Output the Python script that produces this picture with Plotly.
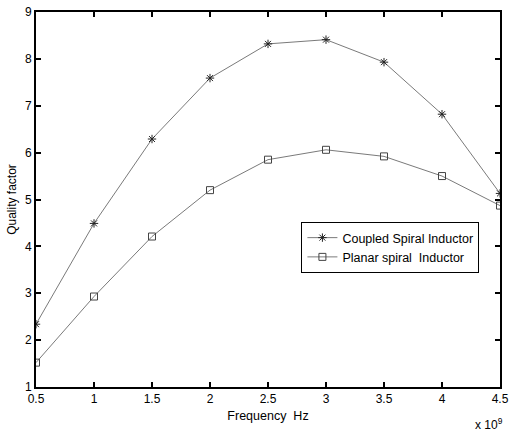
import plotly.graph_objects as go

freq = [0.5e9, 1.0e9, 1.5e9, 2.0e9, 2.5e9, 3.0e9, 3.5e9, 4.0e9, 4.5e9]
coupled = [2.34, 4.49, 6.29, 7.59, 8.32, 8.41, 7.93, 6.82, 5.13]
planar = [1.52, 2.93, 4.21, 5.20, 5.85, 6.06, 5.92, 5.50, 4.87]
xticks = [0.5e9, 1.0e9, 1.5e9, 2.0e9, 2.5e9, 3.0e9, 3.5e9, 4.0e9, 4.5e9]
xticklabels = ["0.5", "1", "1.5", "2", "2.5", "3", "3.5", "4", "4.5"]
yticks = [1, 2, 3, 4, 5, 6, 7, 8, 9]

font = "Liberation Sans, Arial, sans-serif"

fig = go.Figure()
fig.add_trace(go.Scatter(
    x=freq, y=coupled, mode="lines+markers", name="Coupled Spiral Inductor",
    line=dict(color="#7a7a7a", width=1),
    marker=dict(symbol="asterisk-open", size=7, color="#222222",
                line=dict(color="#222222", width=1)),
))
fig.add_trace(go.Scatter(
    x=freq, y=planar, mode="lines+markers", name="Planar spiral  Inductor",
    line=dict(color="#7a7a7a", width=1),
    marker=dict(symbol="square-open", size=7, color="#444444",
                line=dict(color="#444444", width=1)),
))

axis_common = dict(
    showgrid=False, zeroline=False, showline=True, linecolor="black",
    linewidth=2, mirror="ticks", ticks="inside", ticklen=5, tickwidth=2,
    tickcolor="black", tickfont=dict(family=font, size=12, color="black"),
    automargin=False, ticklabeloverflow="allow",
)

fig.update_layout(
    width=509, height=436,
    margin=dict(l=36, r=9, t=12, b=49),
    paper_bgcolor="white", plot_bgcolor="white",
    font=dict(family=font, size=12, color="black"),
    xaxis=dict(range=[0.5e9, 4.5e9], tickvals=xticks, ticktext=xticklabels,
               title=dict(text="Frequency  Hz", standoff=6,
                          font=dict(family=font, size=12.5)),
               **axis_common),
    yaxis=dict(range=[1, 9], tickvals=yticks,
               title=dict(text="Quality factor", standoff=6,
                          font=dict(family=font, size=12)),
               **axis_common),
    legend=dict(x=0.572, y=0.44, xanchor="left", yanchor="top",
                bgcolor="white", bordercolor="black", borderwidth=1,
                font=dict(family=font, size=12.5), itemwidth=30,
                tracegroupgap=0),
    showlegend=True,
)
fig.add_annotation(text="x 10<sup>9</sup>", xref="paper", yref="paper",
                   x=1.01, y=-0.125, xanchor="right", yanchor="bottom",
                   showarrow=False, font=dict(family=font, size=12))

fig.write_html("out.html")
